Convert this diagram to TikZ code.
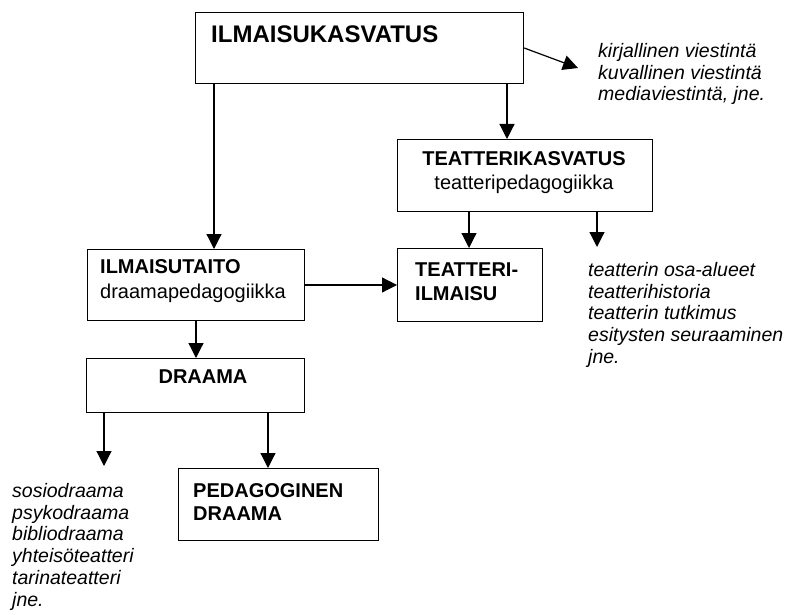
\documentclass[tikz,border=0pt]{standalone}
\usepackage{fontspec}
\setmainfont{Liberation Sans}
\usetikzlibrary{arrows.meta}
\begin{document}
\begin{tikzpicture}[x=1pt,y=-1pt,
  box/.style={draw,line width=1.2pt,rectangle,inner sep=0pt,anchor=north west},
  lbl/.style={inner sep=0pt,anchor=base west},
  clbl/.style={inner sep=0pt,anchor=base},
  titlefont/.style={font=\fontsize{24}{28}\selectfont\bfseries},
  headfont/.style={font=\fontsize{20}{24}\selectfont\bfseries},
  subfont/.style={font=\fontsize{20}{24}\selectfont},
  listfont/.style={font=\fontsize{19.5}{21.8}\selectfont\itshape,align=left,inner sep=0pt,anchor=north west},
  arr/.style={line width=1.2pt,-{Triangle[length=15pt,width=15pt]}}]
\useasboundingbox (0,0) rectangle (787,615);

% boxes
\node[box,minimum width=328pt,minimum height=71pt] (ik) at (195,12) {};
\node[box,minimum width=255pt,minimum height=72pt] (tk) at (397,139) {};
\node[box,minimum width=145pt,minimum height=73pt] (ti) at (397,248) {};
\node[box,minimum width=217pt,minimum height=71pt] (it) at (87,249) {};
\node[box,minimum width=218pt,minimum height=54pt] (dr) at (86,358) {};
\node[box,minimum width=200pt,minimum height=72pt] (pd) at (178,468) {};

% box texts
\node[lbl,titlefont] (ikt) at (211,43) {ILMAISUKASVATUS};
\node[clbl,headfont] (tkt) at (524,165) {TEATTERIKASVATUS};
\node[clbl,subfont] (tks) at (524,189) {teatteripedagogiikka};
\node[lbl,headfont] (tit1) at (415,276) {TEATTERI-};
\node[lbl,headfont] (tit2) at (415,300) {ILMAISU};
\node[lbl,headfont] (itt) at (100,273) {ILMAISUTAITO};
\node[lbl,subfont] (its) at (100,298) {draamapedagogiikka};
\node[clbl,headfont] (drt) at (203,383) {DRAAMA};
\node[lbl,headfont] (pdt1) at (193,497) {PEDAGOGINEN};
\node[lbl,headfont] (pdt2) at (193,520) {DRAAMA};

% free-standing lists
\node[listfont] (l1) at (598,43) {kirjallinen viestintä\\kuvallinen viestintä\\mediaviestintä, jne.};
\node[listfont] (l2) at (588,262) {teatterin osa-alueet\\teatterihistoria\\teatterin tutkimus\\esitysten seuraaminen\\jne.};
\node[listfont] (l3) at (12,483) {sosiodraama\\psykodraama\\bibliodraama\\yhteisöteatteri\\tarinateatteri\\jne.};

% arrow ends above the lists
\coordinate (c1) at (578,68);
\coordinate (c2) at (597,247);
\coordinate (c3) at (104,466);

% connectors
\draw[arr] (ik.east |- 0,48) -- (c1);
\draw[arr] (ik.south -| 214,0) -- (it.north -| 214,0);
\draw[arr] (ik.south -| 507,0) -- (tk.north -| 507,0);
\draw[arr] (tk.south -| 469,0) -- (ti.north -| 469,0);
\draw[arr] (tk.south -| 597,0) -- (c2);
\draw[arr] (it.east |- 0,285) -- (ti.west |- 0,285);
\draw[arr] (it.south -| 196,0) -- (dr.north -| 196,0);
\draw[arr] (dr.south -| 104,0) -- (c3);
\draw[arr] (dr.south -| 268,0) -- (pd.north -| 268,0);
\end{tikzpicture}
\end{document}
